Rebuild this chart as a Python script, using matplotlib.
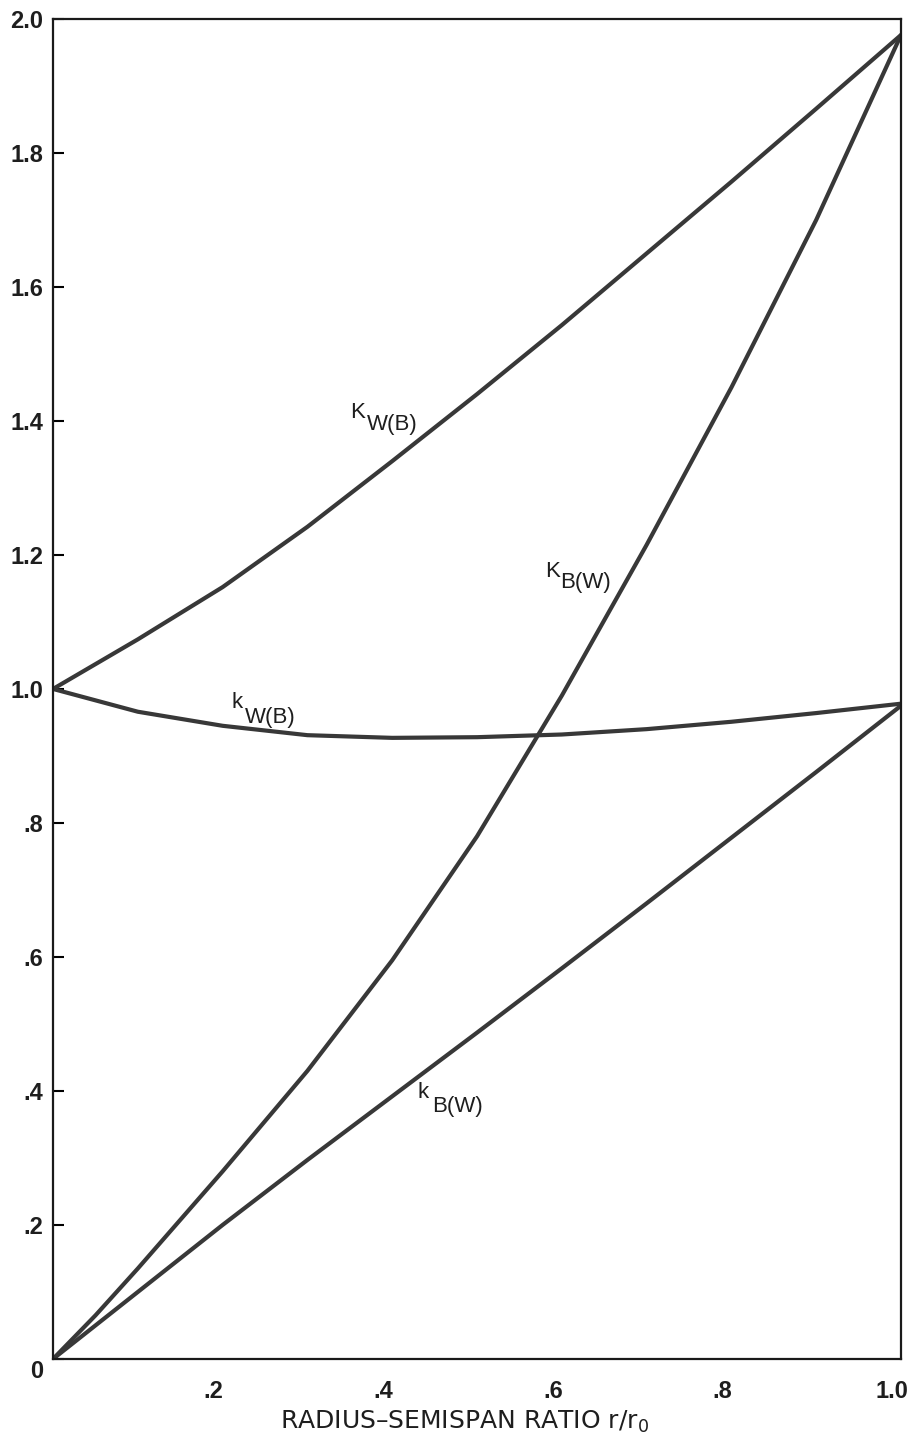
import matplotlib
matplotlib.use("Agg")
import matplotlib.pyplot as plt
from matplotlib.transforms import ScaledTranslation

# Interference factors vs. radius-semispan ratio r/r0
r_grid = [0.0, 0.1, 0.2, 0.3, 0.4, 0.5, 0.6, 0.7, 0.8, 0.9, 1.0]
K_WB_v = [1.0, 1.074, 1.152, 1.242, 1.340, 1.440, 1.543, 1.650, 1.757, 1.866, 1.976]

K_BW_r = [0.0, 0.05, 0.1, 0.2, 0.3, 0.4, 0.5, 0.6, 0.7, 0.8, 0.9, 1.0]
K_BW_v = [0.0, 0.065, 0.135, 0.28, 0.43, 0.595, 0.78, 0.99, 1.215, 1.45, 1.70, 1.976]

k_WB_v = [1.0, 0.966, 0.945, 0.931, 0.927, 0.928, 0.932, 0.94, 0.951, 0.964, 0.978]

k_BW_v = [0.0, 0.1, 0.2, 0.297, 0.392, 0.487, 0.583, 0.68, 0.778, 0.876, 0.975]

y_ticks = [0.0, 0.2, 0.4, 0.6, 0.8, 1.0, 1.2, 1.4, 1.6, 1.8, 2.0]
y_labels = ["0", ".2", ".4", ".6", ".8", "1.0", "1.2", "1.4", "1.6", "1.8", "2.0"]
x_ticks = [0.0, 0.2, 0.4, 0.6, 0.8, 1.0]
x_labels = ["", ".2", ".4", ".6", ".8", "1.0"]

FONT = "Liberation Sans"
INK = "#383838"
TXT = "#1e1e1e"

fig = plt.figure(figsize=(9.24, 14.46), dpi=100)
ax = fig.add_axes([0.0574, 0.0602, 0.9177, 0.9267])

for r, v in [(r_grid, K_WB_v), (K_BW_r, K_BW_v), (r_grid, k_WB_v), (r_grid, k_BW_v)]:
    ax.plot(r, v, color=INK, lw=3.0, solid_capstyle="round", solid_joinstyle="round")

ax.set_xlim(0, 1.0)
ax.set_ylim(0, 2.0)

ax.set_yticks(y_ticks)
ax.set_yticklabels(y_labels, fontfamily=FONT, fontsize=17, fontweight="bold", color=TXT)
ax.set_xticks(x_ticks)
ax.set_xticklabels(x_labels, fontfamily=FONT, fontsize=17, fontweight="bold", color=TXT)
ax.tick_params(axis="y", direction="in", length=8, width=1.5, pad=7)
ax.tick_params(axis="x", direction="in", length=0, width=1.5, pad=15)

# nudge tick labels to sit like the printed figure
shift_x = ScaledTranslation(-9 / 100, 0, fig.dpi_scale_trans)
for lab in ax.get_xticklabels():
    lab.set_transform(lab.get_transform() + shift_x)
zero_lab = ax.get_yticklabels()[0]
zero_lab.set_transform(zero_lab.get_transform() + ScaledTranslation(0, -10 / 100, fig.dpi_scale_trans))

for s in ax.spines.values():
    s.set_linewidth(1.6)
    s.set_color("#1a1a1a")

ax.set_xlabel("RADIUS\u2013SEMISPAN RATIO r/r$_0$", fontfamily="DejaVu Sans", fontsize=18,
              color=TXT)
ax.xaxis.set_label_coords(0.485, -0.037)


def curve_label(x, y, main, sub, dx, dy):
    ax.text(x, y, main, fontfamily=FONT, fontsize=16, color=TXT,
            ha="left", va="baseline")
    ax.text(x + dx, y - dy, sub, fontfamily=FONT, fontsize=16, color=TXT,
            ha="left", va="baseline")


curve_label(0.350, 1.404, "K", "W(B)", 0.020, 0.017)
curve_label(0.211, 0.972, "k", "W(B)", 0.015, 0.023)
curve_label(0.580, 1.167, "K", "B(W)", 0.018, 0.016)
curve_label(0.430, 0.390, "k", "B(W)", 0.017, 0.021)

fig.savefig("out.png", dpi=100)
